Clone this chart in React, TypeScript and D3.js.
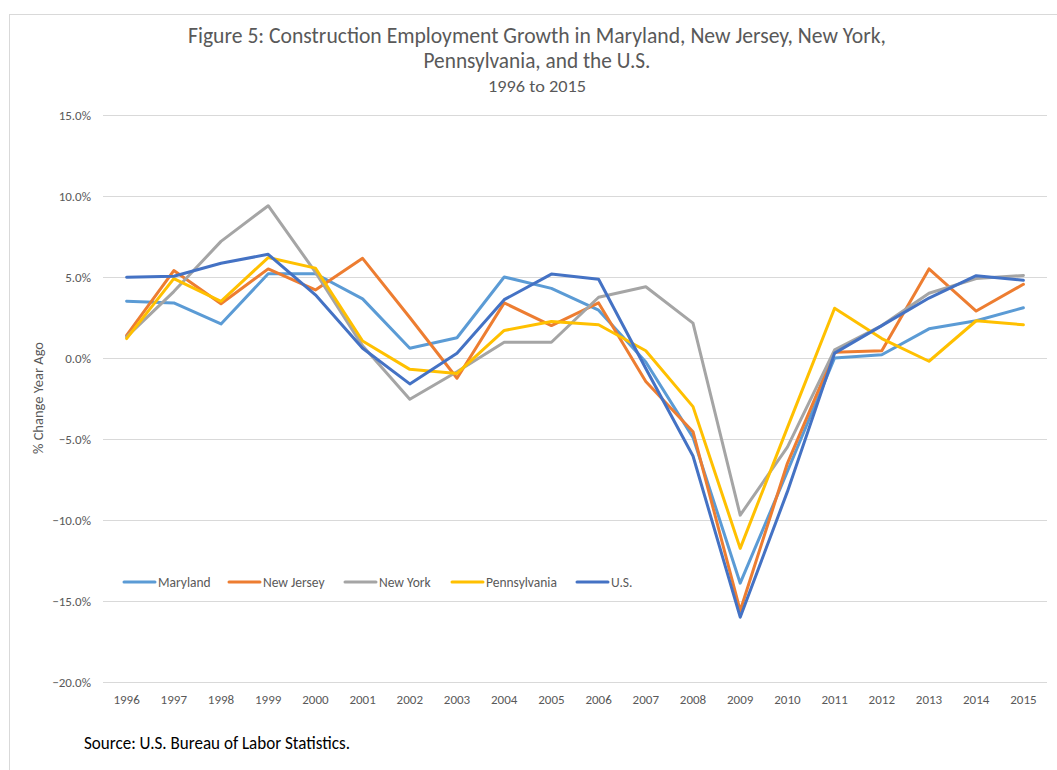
import React from "react";
import * as d3 from "d3";

const years = ["1996","1997","1998","1999","2000","2001","2002","2003","2004","2005","2006","2007","2008","2009","2010","2011","2012","2013","2014","2015"];
const maryland = [3.5, 3.4, 2.1, 5.2, 5.2, 3.65, 0.6, 1.25, 5.0, 4.3, 2.95, -0.25, -4.9, -13.9, -7.0, 0.0, 0.2, 1.8, 2.3, 3.1];
const newJersey = [1.4, 5.4, 3.35, 5.5, 4.2, 6.15, 2.5, -1.25, 3.4, 2.0, 3.4, -1.45, -4.55, -15.6, -6.5, 0.35, 0.45, 5.5, 2.9, 4.55];
const newYork = [1.3, 4.1, 7.2, 9.4, 5.3, 0.75, -2.55, -0.85, 0.97, 0.97, 3.75, 4.4, 2.15, -9.7, -5.5, 0.5, 2.0, 4.0, 4.9, 5.1];
const pennsylvania = [1.2, 4.9, 3.5, 6.2, 5.55, 1.05, -0.7, -0.95, 1.7, 2.25, 2.05, 0.45, -3.0, -11.75, -4.3, 3.07, 1.2, -0.2, 2.3, 2.05];
const us = [4.98, 5.05, 5.85, 6.4, 3.9, 0.6, -1.6, 0.3, 3.6, 5.18, 4.86, -0.65, -6.05, -16.0, -8.25, 0.3, 2.0, 3.7, 5.08, 4.8];

const seriesNames = ["Maryland", "New Jersey", "New York", "Pennsylvania", "U.S."];
const seriesValues = [maryland, newJersey, newYork, pennsylvania, us];
const seriesColors = ["#5B9BD5", "#ED7D31", "#A5A5A5", "#FFC000", "#4472C4"];
const yTicks = [15, 10, 5, 0, -5, -10, -15, -20];
const legendX = [124, 229, 345, 452, 577];

const FONT = "Carlito, Lato, 'Liberation Sans', sans-serif";

export default function App() {
  const W = 1057, H = 770;
  const x = d3.scaleBand<string>().domain(years).range([103, 1047]);
  const y = d3.scaleLinear().domain([-20, 15]).range([682, 115]);
  const line = d3.line<number>()
    .x((_, i) => (x(years[i]) as number) + x.bandwidth() / 2)
    .y((d) => y(d));

  return (
    <svg width={W} height={H} style={{ position: "absolute", left: 0, top: 0, background: "#fff" }}>
      <rect x={9.5} y={14.5} width={1100} height={800} fill="#fff" stroke="#d9d9d9" strokeWidth={1} />
      <g fontFamily={FONT} fill="#595959" textAnchor="middle" fontWeight={300}>
        <text x={537} y={43} fontSize={21.5} textLength={698} lengthAdjust="spacingAndGlyphs">Figure 5: Construction Employment Growth in Maryland, New Jersey, New York,</text>
        <text x={537} y={68} fontSize={21.5} textLength={227} lengthAdjust="spacingAndGlyphs">Pennsylvania, and the U.S.</text>
        <text x={537} y={92} fontSize={16} textLength={98} lengthAdjust="spacingAndGlyphs">1996 to 2015</text>
      </g>
      {yTicks.map((t) => (
        <g key={t}>
          <line x1={103} x2={1047} y1={Math.round(y(t)) + 0.5} y2={Math.round(y(t)) + 0.5} stroke="#d9d9d9" strokeWidth={1} />
          <text x={91} y={y(t)} dy="0.35em" textAnchor="end" fontFamily={FONT} fontSize={13} fill="#595959">
            {d3.format(".1f")(t) + "%"}
          </text>
        </g>
      ))}
      {years.map((yr) => (
        <text key={yr} x={(x(yr) as number) + x.bandwidth() / 2} y={704} textAnchor="middle" fontFamily={FONT} fontSize={13} fill="#595959">
          {yr}
        </text>
      ))}
      <text transform={`translate(43,398) rotate(-90)`} textAnchor="middle" fontFamily={FONT} fontSize={14.5} fill="#595959">
        % Change Year Ago
      </text>
      {seriesValues.map((vals, i) => (
        <path key={seriesNames[i]} d={line(vals) || ""} fill="none" stroke={seriesColors[i]} strokeWidth={3} strokeLinejoin="round" strokeLinecap="round" />
      ))}
      {seriesNames.map((n, i) => (
        <g key={n}>
          <line x1={legendX[i]} x2={legendX[i] + 31} y1={582} y2={582} stroke={seriesColors[i]} strokeWidth={3} strokeLinecap="round" />
          <text x={legendX[i] + 34} y={582} dy="0.35em" fontFamily={FONT} fontSize={13.5} fill="#595959">{n}</text>
        </g>
      ))}
      <text x={84} y={749} fontFamily={FONT} fontSize={17.5} fontWeight={300} fill="#000" textLength={266} lengthAdjust="spacingAndGlyphs">Source: U.S. Bureau of Labor Statistics.</text>
    </svg>
  );
}
